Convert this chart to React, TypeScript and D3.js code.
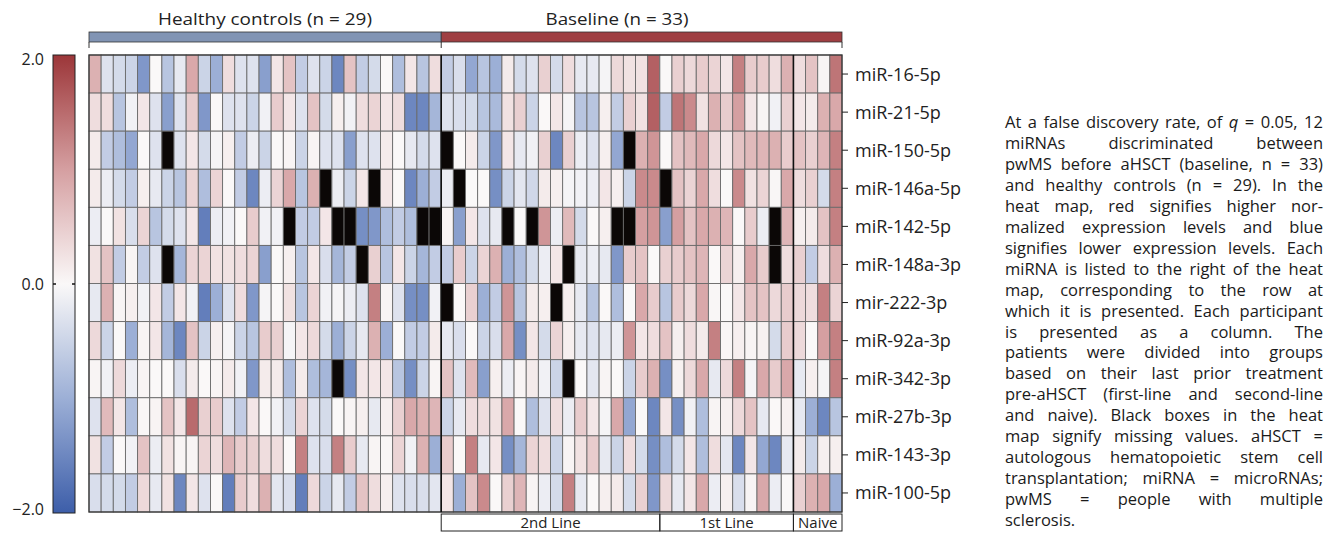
import { useEffect, useRef } from "react";
import * as d3 from "d3";

// miRNA rows, top to bottom
const mirnas = [
  "miR-16-5p", "miR-21-5p", "miR-150-5p", "miR-146a-5p", "miR-142-5p", "miR-148a-3p",
  "mir-222-3p", "miR-92a-3p", "miR-342-3p", "miR-27b-3p", "miR-143-3p", "miR-100-5p",
];

// normalized expression, one row per miRNA, null = missing value (black box)
const healthy = [
  [0.8, -0.3, -0.4, -0.5, -1.3, 0, -0.7, -0.2, 0.9, -0.5, -1.0, 0.3, -0.3, -0.3, -1.2, 0.2, 0.6, -0.6, -0.3, -0.5, -1.5, 0.6, -0.6, -0.4, 0, -0.8, 0.2, -0.7, 0.3],
  [0.3, 0.3, -0.7, -0.1, 0.2, -0.3, -1.2, -0.3, 0.5, -1.3, 0, -0.3, -0.3, -0.5, -0.1, 0.5, 0.2, -0.3, 0.6, -0.4, 0.1, -0.1, 0.3, 0.4, 0.2, 0.3, -1.5, -1.5, -0.9],
  [0.15, -0.6, -0.8, -1.1, 0, -0.3, null, -0.3, 0.2, -0.4, -0.05, 0.1, -0.6, -0.15, -0.5, 0, 0.05, -0.5, 0.05, -0.3, -0.3, -1.2, -0.3, -0.3, 0.15, 0, -0.2, -0.4, -0.3],
  [0.15, -0.15, -0.4, -0.6, 0.1, -0.2, -0.5, -0.7, 0.4, -0.8, 0.4, 0, -0.6, -1.5, -0.15, 0.4, 0.9, -0.7, 0.8, null, -0.15, -0.5, 0.2, null, 0.2, 0, -1.5, -1.0, -0.6],
  [-0.15, 0, 0.25, -0.35, 0.4, -0.7, -0.4, -0.3, 0.2, -1.6, -0.15, -0.1, 0, 0.5, -0.1, -0.1, null, -0.6, -0.6, 0.2, null, null, -1.4, -1.3, -0.8, -0.6, -0.8, null, null],
  [0.25, 0.6, -0.6, 0.05, -0.6, -0.3, null, -0.9, 0.4, 0.4, 0.25, 0.25, 0.3, 0.4, -1.2, 0, 0.1, -0.7, 0.2, -0.35, -0.9, -0.6, null, 0.45, -0.7, 0.2, -0.5, -0.9, -0.6],
  [-0.2, 0.8, 0.05, 0.1, -0.1, 0.2, -0.6, 0.2, -0.1, -1.6, -1.0, -0.3, 0.3, -1.3, -0.05, 0, 0.25, -0.7, 0.4, -0.1, -0.05, -0.15, -0.3, 1.3, 0.05, -0.3, -1.4, -1.4, -0.1],
  [0.35, -0.5, 0, -1.0, 0.05, 0.2, -0.9, -1.5, 0.6, -0.5, 0.1, -0.05, -0.5, -0.7, 0.5, 0.45, -0.05, 0.2, 0.35, -0.4, -1.0, -0.5, -0.2, 0.8, -1.0, 0, -0.6, -0.6, 0.15],
  [0.05, -0.1, 0.35, -0.15, 0.05, 0, 0, -0.35, 0.15, 0, 0.05, 0.15, -0.1, -1.3, 0.15, 0.15, -0.8, 0.15, -0.8, -0.9, null, -1.4, 0.2, 0.2, 0.2, -0.7, -1.4, -0.5, 0.05],
  [-0.3, 0.7, 0.2, -0.8, 0.02, 0.05, 0.6, 0.2, 1.5, 0.45, 0.5, -0.3, -0.6, 0.2, 0, -0.1, -0.4, 0.4, -0.3, -0.4, 0, 0.05, 0.1, -0.2, 0.1, 0.45, 0.9, 0.8, 0.75],
  [0.25, -0.6, 0, -0.1, 0.6, -0.15, 0.25, 0.05, 0.05, 0.4, 0.3, 0.75, 0.5, 0.45, 0.3, 0.3, 0, 1.3, -0.3, -0.35, 1.3, 0.5, -0.2, 0.05, 0.02, 0.4, -0.1, 0.8, -1.0],
  [-0.35, -0.4, -0.4, -0.6, 0.35, -0.2, 0.25, -1.5, 0.2, -0.3, 0, -1.6, 0.5, 0.3, 0.8, -0.25, -0.35, -1.6, 0.35, -0.5, -0.2, -0.6, 0.6, 0.3, 0.1, -0.3, -0.35, -0.35, -0.25],
];

const secondLine = [
  [-0.6, -0.35, -1.1, -0.7, -1.0, 0.15, -0.4, -0.3, 0.45, -0.4, 0.3, -0.2, -0.2, -0.05, 0.35, 0.25, 0.25, 1.6],
  [-0.3, -0.35, -0.4, -0.7, -0.85, 0.25, 0.45, -0.5, 0, 0.2, -0.05, -0.7, -0.7, 0.1, -0.6, 0.45, 0.25, 1.6],
  [null, 0, 0.15, -0.5, -1.3, 0.2, -0.2, -0.1, 0.45, -1.5, 0.45, -0.15, -0.3, 0.1, -1.1, null, 0.8, 1.1],
  [-0.15, null, 0, 0, -1.4, -0.5, -0.25, -0.45, 0.15, 0.1, -0.05, -0.1, -0.15, 0.2, 0.1, -0.5, 1.2, 1.2],
  [0.05, -1.2, 0.2, -0.3, -0.2, null, 0, null, 1.1, -0.15, 0.7, -0.4, 0, 0.1, null, null, 1.0, 1.1],
  [-0.6, 0.5, -0.5, 0.4, 0.8, -1.0, -0.8, -0.4, -0.15, 0.2, null, -0.2, -0.15, -0.2, -1.3, 0.5, 0.6, 0],
  [null, 0, 0.45, -1.0, -0.6, 1.1, -0.7, 0.15, 0.1, null, 0.1, -0.2, -0.7, 0, -0.8, 0, 0.9, 0.5],
  [-0.2, -0.35, 0, -0.5, -0.35, 0.9, -1.4, 0.2, -0.4, 0.4, 0.1, -0.2, -0.3, -0.2, -0.15, 1.1, 0.2, 0.3],
  [0.6, -0.3, 0.7, -1.2, 0.1, -0.15, 0.05, 0.15, -0.1, -0.5, null, 0, -0.25, 0.05, 0, -0.5, 0.5, 0.8],
  [-0.5, -0.2, 0.3, 0.3, 0.25, 0.9, 0, -0.8, -0.3, 0.3, -0.15, 0.5, 0.2, -0.05, 0.9, -1.1, 0, -1.5],
  [0.5, 0, 1.3, -0.2, 0.2, -1.4, -0.9, 0.4, 0.3, -0.5, 0.05, 0.25, 0.5, -0.2, -0.5, 0.3, -0.4, -1.4],
  [0.2, -1.0, 0.6, 1.2, 0, 0.45, 0.75, 0.05, -0.15, -0.4, 1.3, -0.2, 0, 0.1, 0.15, -0.4, 0.45, -1.3],
];

const firstLine = [
  [0, 0.45, 0.35, 0.5, 0.4, 0.2, 1.3, 0.5, 0.5, 0.3, 0.8],
  [-0.6, 1.4, 1.2, 0.25, 0.8, 0.5, 1.0, 0.2, 0.05, -0.1, 0.45],
  [0, 0.6, 0.7, 0.9, 0.35, 0.2, 0.6, 0.7, 0.75, 0.8, 0.5],
  [null, 0.6, 0.4, 0.9, 0.3, 0, 1.2, 0.25, 0.4, 0.02, 0.9],
  [-1.2, 1.0, 0.6, 0.9, 0.8, 0.75, 0, 0.5, -0.15, null, 0.75],
  [0.45, 0.5, 0.6, 0.75, 0, 0.4, 0.1, 0.9, 0.5, null, 0.3],
  [-0.7, 0.5, 0.35, 0.9, 0.02, 0, 0.2, 0.6, 0.6, 0.35, 0.5],
  [0.6, 0.1, 0.3, 0.15, 1.3, 0.02, 0.1, 0.05, 0.08, -0.4, 0.5],
  [-1.4, 0.08, 0.35, 0.9, -0.2, 0.35, 1.3, -0.05, 0.9, 0.5, 0.9],
  [0.2, -1.4, -0.1, -0.8, 0.05, 0.1, 0.35, 0.6, -0.2, 0, 0.08],
  [-0.8, -0.4, 0.2, -0.8, 0.3, -0.25, -1.5, 0.2, -1.1, -1.5, -0.2],
  [0.35, -0.2, 0.2, 0.9, -0.15, 0.1, -0.35, 0.05, 0.9, -0.15, 0],
];

const naive = [
  [0.3, 0.6, 0.05, 1.4],
  [0.2, 0.15, 0.8, 0.9],
  [0.6, 0.45, 0.75, 1.3],
  [0.3, 0.45, -0.4, 1.3],
  [0.1, 0.15, 0.6, 1.3],
  [0.45, -0.6, 0.3, 0.8],
  [0.35, 0.3, 1.3, 0.4],
  [0.35, 0, 1.0, 1.3],
  [-0.2, 0.1, -0.05, 1.3],
  [-0.2, -1.0, -1.5, -0.7],
  [0.15, -0.5, 0.1, 0.1],
  [0.45, 0.8, 0.9, -1.0],
];

const colorTicks = [2, 0, -2];

const caption = [
  "At a false discovery rate, of q = 0.05, 12",
  "miRNAs discriminated between",
  "pwMS before aHSCT (baseline, n = 33)",
  "and healthy controls (n = 29). In the",
  "heat map, red signifies higher nor-",
  "malized expression levels and blue",
  "signifies lower expression levels. Each",
  "miRNA is listed to the right of the heat",
  "map, corresponding to the row at",
  "which it is presented. Each participant",
  "is presented as a column. The",
  "patients were divided into groups",
  "based on their last prior treatment",
  "pre-aHSCT (first-line and second-line",
  "and naive). Black boxes in the heat",
  "map signify missing values. aHSCT =",
  "autologous hematopoietic stem cell",
  "transplantation; miRNA = microRNAs;",
  "pwMS = people with multiple",
  "sclerosis.",
];

const FONT = "'Open Sans', 'Noto Sans', sans-serif";

const App = () => {
  const svgRef = useRef<SVGSVGElement>(null);

  useEffect(() => {
    const svg = d3.select(svgRef.current);
    svg.selectAll("*").remove();

    const left = 89, right = 842, top = 55, bottom = 512;

    const matrix = mirnas.map((_, i) => [...healthy[i], ...secondLine[i], ...firstLine[i], ...naive[i]]);
    const nCols = matrix[0].length;

    const x = d3.scaleBand<number>().domain(d3.range(nCols)).range([left, right]);
    const y = d3.scaleBand<string>().domain(mirnas).range([top, bottom]);

    const color = d3
      .scaleLinear<string>()
      .domain([-2, -1, 0, 1, 2])
      .range(["#3d5ea9", "#9cafd6", "#faf8f8", "#d59fa1", "#9c3639"])
      .clamp(true);

    // cells
    const cells = mirnas.flatMap((m, i) => matrix[i].map((v, j) => ({ m, j, v })));
    svg
      .append("g")
      .selectAll("rect")
      .data(cells)
      .enter()
      .append("rect")
      .attr("x", (d) => x(d.j)!)
      .attr("y", (d) => y(d.m)!)
      .attr("width", x.bandwidth())
      .attr("height", y.bandwidth())
      .attr("fill", (d) => (d.v === null ? "#0b0706" : color(d.v)))
      .attr("stroke", "#6a6a6a")
      .attr("stroke-width", 0.9);

    // outer frame + group separators
    svg
      .append("rect")
      .attr("x", left)
      .attr("y", top)
      .attr("width", right - left)
      .attr("height", bottom - top)
      .attr("fill", "none")
      .attr("stroke", "#333")
      .attr("stroke-width", 1.2);

    const nH = healthy[0].length;
    const n2 = secondLine[0].length;
    const n1 = firstLine[0].length;
    const nN = naive[0].length;
    const edge = (k: number) => (k >= nCols ? right : x(k)!);

    [nH, nH + n2 + n1].forEach((k) => {
      svg
        .append("line")
        .attr("x1", edge(k))
        .attr("x2", edge(k))
        .attr("y1", top)
        .attr("y2", bottom)
        .attr("stroke", "#111")
        .attr("stroke-width", 1.6);
    });

    // top group bars
    const topGroups = [
      { label: "Healthy controls (n = 29)", a: 0, b: nH, fill: "#8194b4", tx: 265, w: 214 },
      { label: "Baseline (n = 33)", a: nH, b: nCols, fill: "#9f3f42", tx: 617, w: 143 },
    ];
    topGroups.forEach((g) => {
      svg
        .append("rect")
        .attr("x", edge(g.a))
        .attr("y", 32)
        .attr("width", edge(g.b) - edge(g.a))
        .attr("height", 10)
        .attr("fill", g.fill)
        .attr("stroke", "#333")
        .attr("stroke-width", 0.8);
      svg
        .append("text")
        .attr("x", g.tx)
        .attr("y", 25)
        .attr("text-anchor", "middle")
        .attr("font-family", FONT)
        .attr("font-size", 17)
        .attr("fill", "#222")
        .attr("textLength", g.w)
        .attr("lengthAdjust", "spacingAndGlyphs")
        .text(g.label);
    });
    [0, nH, nCols].forEach((k) => {
      svg
        .append("line")
        .attr("x1", edge(k))
        .attr("x2", edge(k))
        .attr("y1", 42)
        .attr("y2", 48)
        .attr("stroke", "#333")
        .attr("stroke-width", 1);
    });

    // bottom subgroup boxes
    const subGroups = [
      { label: "2nd Line", a: nH, b: nH + n2 },
      { label: "1st Line", a: nH + n2, b: nH + n2 + n1 },
      { label: "Naive", a: nH + n2 + n1, b: nH + n2 + n1 + nN },
    ];
    subGroups.forEach((g) => {
      svg
        .append("rect")
        .attr("x", edge(g.a))
        .attr("y", 514)
        .attr("width", edge(g.b) - edge(g.a))
        .attr("height", 17)
        .attr("fill", "none")
        .attr("stroke", "#222")
        .attr("stroke-width", 1);
      svg
        .append("text")
        .attr("x", (edge(g.a) + edge(g.b)) / 2)
        .attr("y", 528)
        .attr("text-anchor", "middle")
        .attr("font-family", FONT)
        .attr("font-size", 15)
        .attr("fill", "#222")
        .text(g.label);
    });

    // row labels
    const rows = svg.append("g");
    mirnas.forEach((m) => {
      const cy = y(m)! + y.bandwidth() / 2;
      rows
        .append("line")
        .attr("x1", right)
        .attr("x2", right + 6)
        .attr("y1", cy)
        .attr("y2", cy)
        .attr("stroke", "#222");
      rows
        .append("text")
        .attr("x", right + 13)
        .attr("y", cy)
        .attr("dy", "0.36em")
        .attr("font-family", FONT)
        .attr("font-size", 18)
        .attr("fill", "#222")
        .text(m);
    });

    // colour bar
    const cbX = 53, cbW = 22;
    const cbY = d3.scaleLinear().domain([-2, 2]).range([513, 55]);
    const grad = svg
      .append("defs")
      .append("linearGradient")
      .attr("id", "cbar")
      .attr("x1", 0)
      .attr("x2", 0)
      .attr("y1", 1)
      .attr("y2", 0);
    d3.range(-2, 2.01, 0.5).forEach((v) => {
      grad
        .append("stop")
        .attr("offset", (v + 2) / 4)
        .attr("stop-color", color(v));
    });
    svg
      .append("rect")
      .attr("x", cbX)
      .attr("y", cbY(2))
      .attr("width", cbW)
      .attr("height", cbY(-2) - cbY(2))
      .attr("fill", "url(#cbar)")
      .attr("stroke", "#222")
      .attr("stroke-width", 1);
    colorTicks.forEach((t) => {
      const ty = cbY(t);
      svg
        .append("text")
        .attr("x", 44)
        .attr("y", ty)
        .attr("dy", t === 2 ? "0.6em" : t === -2 ? "0.1em" : "0.35em")
        .attr("text-anchor", "end")
        .attr("font-family", FONT)
        .attr("font-size", 16)
        .attr("fill", "#222")
        .text((t < 0 ? "\u2212" : "") + Math.abs(t).toFixed(1));
      if (t === 0) {
        [cbX, cbX + cbW - 3].forEach((tx) => {
          svg
            .append("line")
            .attr("x1", tx)
            .attr("x2", tx + 3)
            .attr("y1", ty)
            .attr("y2", ty)
            .attr("stroke", "#111")
            .attr("stroke-width", 1.5);
        });
      }
    });

    // caption, justified
    const capX = 1005, capW = 318, capY = 128, lh = 20.95;
    caption.forEach((line, i) => {
      const t = svg
        .append("text")
        .attr("x", capX)
        .attr("y", capY + i * lh)
        .attr("font-family", FONT)
        .attr("font-size", 16.5)
        .attr("fill", "#1a1a1a");
      if (i === 0) {
        const [pre, post] = line.split(" q ");
        t.append("tspan").text(pre + " ");
        t.append("tspan").attr("font-style", "italic").text("q");
        t.append("tspan").text(" " + post);
      } else {
        t.text(line);
      }
      if (i < caption.length - 1) {
        const node = t.node() as SVGTextElement;
        const len = node.getComputedTextLength();
        const spaces = (line.match(/ /g) || []).length;
        if (len > capW) {
          t.attr("textLength", capW).attr("lengthAdjust", "spacingAndGlyphs");
        } else if (spaces > 0) {
          t.attr("word-spacing", (capW - len) / spaces);
        }
      }
    });
  }, []);

  return (
    <svg
      ref={svgRef}
      width={1336}
      height={534}
      style={{ position: "absolute", left: 0, top: 0, background: "#fff" }}
    ></svg>
  );
};

export default App;
